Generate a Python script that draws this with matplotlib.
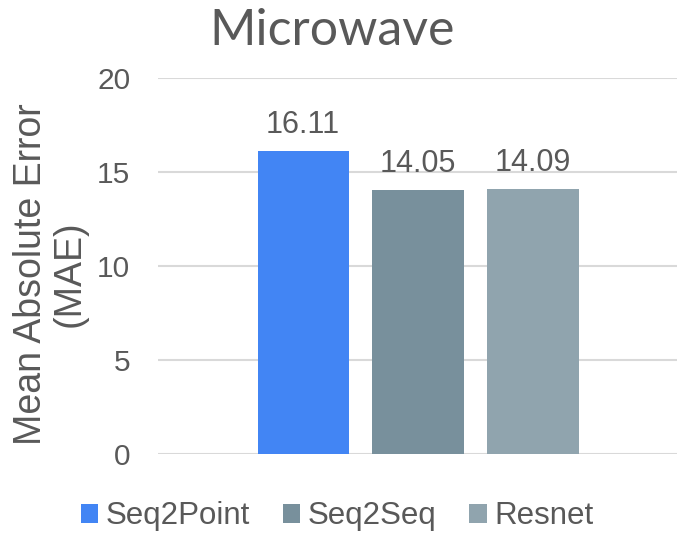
import matplotlib.pyplot as plt
from matplotlib.patches import Patch

# MAE per model on the microwave appliance
models = ['Seq2Point', 'Seq2Seq', 'Resnet']
mae = [16.11, 14.05, 14.09]
colors = ['#4285F4', '#78909C', '#90A4AE']
yticks = [0, 5, 10, 15, 20]

plt.rcParams['font.family'] = ['Liberation Sans', 'DejaVu Sans']
text_color = '#595959'
grid_color = '#D9D9D9'

fig = plt.figure(figsize=(6.77, 5.33), dpi=100)
ax = fig.add_axes([0.2334, 0.1482, 0.7666, 0.7055])

# bars sit side by side around the single category
offsets = [-0.441, 0.002, 0.445]
bar_w = 0.351
for off, name, val, col in zip(offsets, models, mae, colors):
    ax.bar(off, val, width=bar_w, color=col, label=name, zorder=2)
    ax.text(off, val + 0.6, f'{val:.2f}', ha='center', va='bottom',
            fontsize=22, color=text_color)

ax.set_xlim(-1.0, 1.0)
ax.set_ylim(0, 20)
ax.set_yticks(yticks)
ax.set_xticks([])
ax.tick_params(axis='y', length=0, pad=20, labelsize=21.5, labelcolor=text_color)
ax.grid(axis='y', color=grid_color, linewidth=1.5, zorder=0)
for s in ax.spines.values():
    s.set_visible(False)

fig.text(0.074, 0.486, 'Mean Absolute Error\n(MAE)', rotation=90,
         ha='center', va='center', fontsize=27, color=text_color,
         linespacing=1.1)

fig.text(0.49, 0.942, 'Microwave', ha='center', va='center',
         fontsize=36, color=text_color, family=['Lato', 'DejaVu Sans'])

handles = [Patch(facecolor=c, label=m) for m, c in zip(models, colors)]
fig.legend(handles=handles, loc='center', bbox_to_anchor=(0.498, 0.031),
           ncol=3, frameon=False, fontsize=22.5, labelcolor=text_color,
           handlelength=0.55, handleheight=0.55, handletextpad=0.25,
           columnspacing=1.05)

fig.savefig('out.png', dpi=100)
